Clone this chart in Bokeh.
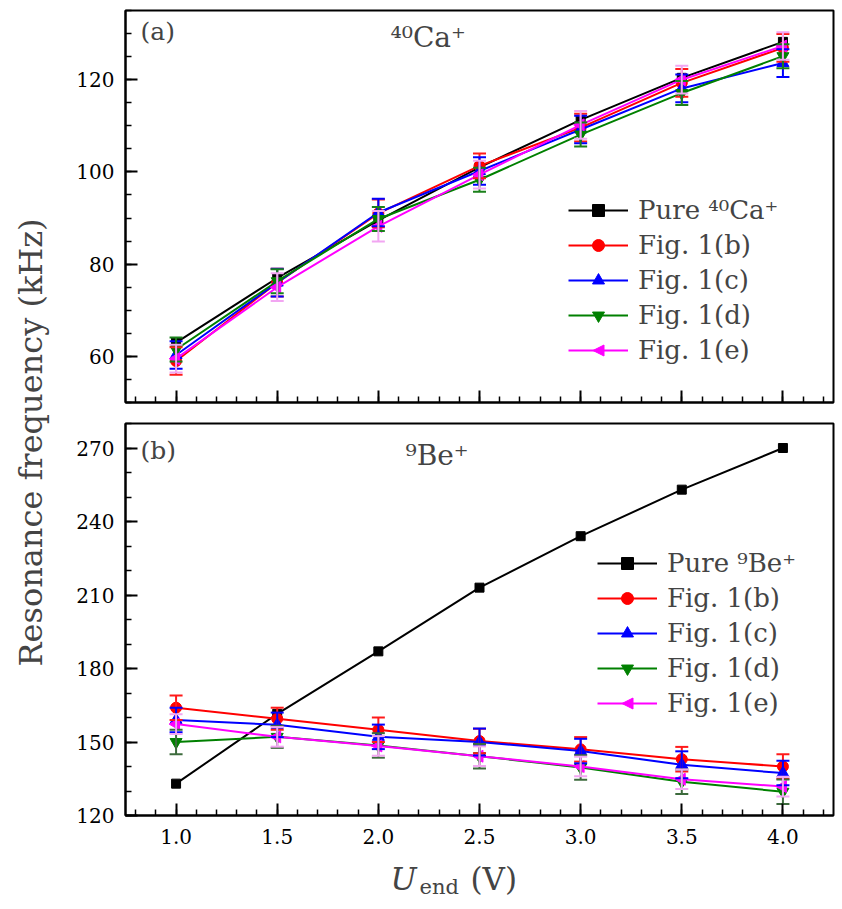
import numpy as np
from bokeh.plotting import figure
from bokeh.layouts import row, column
from bokeh.models import (ColumnDataSource, Whisker, TeeHead, FixedTicker,
                          PrintfTickFormatter, CustomJSTickFormatter, Legend,
                          LegendItem, Label, Range1d, Arrow, NormalHead)
from bokeh.embed import file_html
from bokeh.resources import INLINE

FONT = "DejaVu Serif"

# ---------------- data ----------------
u_end = [1.0, 1.5, 2.0, 2.5, 3.0, 3.5, 4.0]

# (a) 40Ca+
ca_pure = [63.0, 77.0, 89.5, 101.0, 111.3, 120.4, 128.2]
ca_b = [59.0, 76.0, 91.0, 101.3, 109.6, 119.3, 126.9]
ca_b_err = [3.0, 3.0, 3.0, 2.7, 3.0, 3.0, 3.0]
ca_c = [60.3, 76.0, 91.2, 100.2, 109.2, 118.1, 123.6]
ca_c_err = [3.0, 3.0, 3.0, 3.0, 3.0, 3.0, 3.0]
ca_d = [61.5, 76.3, 89.8, 98.3, 108.1, 117.1, 125.1]
ca_d_err = [2.6, 2.6, 2.6, 2.6, 2.6, 2.6, 2.6]
ca_e = [59.5, 75.0, 88.2, 99.4, 110.2, 120.0, 127.3]
ca_e_err = [3.0, 3.0, 3.3, 3.0, 3.0, 3.0, 3.0]

# (b) 9Be+
be_pure = [133.0, 161.5, 187.0, 213.0, 234.0, 253.0, 270.0]
be_b = [164.0, 159.5, 155.0, 150.4, 147.0, 143.0, 140.0]
be_b_err = [5.0, 4.5, 5.0, 5.0, 5.0, 5.0, 5.0]
be_c = [159.0, 157.0, 152.1, 150.0, 146.3, 140.7, 137.3]
be_c_err = [5.0, 5.0, 5.0, 5.5, 5.0, 5.5, 5.0]
be_d = [150.0, 152.1, 148.6, 144.2, 139.6, 133.8, 129.7]
be_d_err = [5.0, 4.5, 5.0, 5.0, 5.0, 5.0, 5.0]
be_e = [157.3, 152.1, 148.4, 144.2, 140.0, 134.8, 131.8]
be_e_err = [4.0, 4.0, 4.0, 4.0, 4.0, 4.0, 4.0]

x_ticks = [1.0, 1.5, 2.0, 2.5, 3.0, 3.5, 4.0]
ca_ticks = [60, 80, 100, 120]
be_ticks = [120, 150, 180, 210, 240, 270]

legend_labels_ca = ["Pure \u2074\u2070Ca\u207a", "Fig. 1(b)", "Fig. 1(c)", "Fig. 1(d)", "Fig. 1(e)"]
legend_labels_be = ["Pure \u2079Be\u207a", "Fig. 1(b)", "Fig. 1(c)", "Fig. 1(d)", "Fig. 1(e)"]

# ---------------- styles ----------------
line_colors = ["#000000", "#ff0000", "#0000ff", "#008000", "#ff00ff"]
err_colors_top = [None, "#ff1a1a", "#0000ff", "#1a801a", "#f2a6f2"]
err_colors_bot = [None, "#ff1a1a", "#0000ff", "#3d6b3d", "#f2a6f2"]
markers = ["square", "circle", "triangle", "inverted_triangle", "triangle"]
angles = [0.0, 0.0, 0.0, 0.0, np.pi / 2]
sizes = [9, 11, 12, 12, 12]

W_LAB = 50
BL = 75
FW = 708
BR = 5
FH = 392
P1_H = 10 + FH + 10
P2_H = 11 + FH + 40
XL_H = 54

LEG_GW = 60
LEG_GH = 30
LEG_SP = 5


def style(p, yticks, yminor, show_x_labels):
    p.outline_line_color = "black"
    p.outline_line_width = 2
    p.xgrid.visible = False
    p.ygrid.visible = False
    p.xaxis.ticker = FixedTicker(ticks=x_ticks, minor_ticks=list(np.round(np.arange(0.8, 4.25, 0.1), 2)))
    p.yaxis.ticker = FixedTicker(ticks=yticks, minor_ticks=yminor)
    for ax in (p.xaxis[0], p.yaxis[0]):
        ax.axis_line_width = 2
        ax.axis_line_color = "black"
        ax.major_tick_in = 12
        ax.major_tick_out = 0
        ax.minor_tick_in = 6
        ax.minor_tick_out = 0
        ax.major_tick_line_width = 2
        ax.minor_tick_line_width = 1.5
        ax.major_label_text_font = FONT
        ax.major_label_text_font_size = "20px"
        ax.major_label_text_color = "black"
    p.yaxis.major_label_standoff = 11
    if show_x_labels:
        p.xaxis.formatter = PrintfTickFormatter(format="%.1f")
        p.xaxis.major_label_standoff = 13
    else:
        p.xaxis.formatter = CustomJSTickFormatter(code="return ''")
        p.xaxis.major_label_standoff = 0


def add_series(p, ys, errs, labels, err_colors, lx, ly):
    items = []
    n = len(ys)
    for i, (y, e) in enumerate(zip(ys, errs)):
        src = ColumnDataSource(dict(x=u_end, y=y, ang=[angles[i]] * len(u_end)))
        ln = p.line("x", "y", source=src, line_color=line_colors[i], line_width=2)
        if e is not None:
            esrc = ColumnDataSource(dict(x=u_end,
                                         lo=list(np.array(y) - np.array(e)),
                                         hi=list(np.array(y) + np.array(e))))
            c = err_colors[i]
            w = Whisker(source=esrc, base="x", lower="lo", upper="hi",
                        line_color=c, line_width=2, level="glyph",
                        upper_head=TeeHead(size=13, line_color=c, line_width=2),
                        lower_head=TeeHead(size=13, line_color=c, line_width=2))
            p.add_layout(w)
        sc = p.scatter("x", "y", source=src, marker=markers[i], size=sizes[i],
                       angle="ang", fill_color=line_colors[i],
                       line_color=line_colors[i])
        if angles[i] != 0:
            # legend symbol for the left-pointing triangle (legend glyphs are not rotated)
            row_idx = n - 1 - i
            cx = lx + LEG_GW / 2
            cy = ly + row_idx * (LEG_GH + LEG_SP) + LEG_GH / 2
            hs = 11
            p.add_layout(Arrow(x_start=cx + hs / 2, y_start=cy, x_end=cx - hs / 2, y_end=cy,
                               start_units="screen", end_units="screen",
                               line_alpha=0, level="overlay",
                               end=NormalHead(size=hs, fill_color=line_colors[i],
                                              line_color=line_colors[i], line_width=1)))
            items.append(LegendItem(label=labels[i], renderers=[ln]))
        else:
            items.append(LegendItem(label=labels[i], renderers=[ln, sc], index=0))
    leg = Legend(items=items, location=(lx, ly), margin=0, padding=0,
                 border_line_color=None, background_fill_alpha=0,
                 label_text_font=FONT, label_text_font_size="26px",
                 glyph_width=LEG_GW, glyph_height=LEG_GH, label_height=LEG_GH,
                 label_standoff=10, spacing=LEG_SP)
    p.add_layout(leg, "center")


# ---------------- top panel ----------------
p1 = figure(width=BL + FW + BR, height=P1_H, output_backend="svg",
            toolbar_location=None, x_range=Range1d(0.75, 4.25),
            y_range=Range1d(50, 135), min_border_left=BL, min_border_right=BR,
            min_border_top=10, min_border_bottom=10)
style(p1, ca_ticks, list(range(50, 136, 5)), False)
add_series(p1, [ca_pure, ca_b, ca_c, ca_d, ca_e],
           [None, ca_b_err, ca_c_err, ca_d_err, ca_e_err],
           legend_labels_ca, err_colors_top, 443, 37)
p1.add_layout(Label(x=15, y=FH - 21, x_units="screen", y_units="screen", text="(a)",
                    text_font=FONT, text_font_size="25px", text_baseline="middle"))
p1.add_layout(Label(x=265, y=FH - 27, x_units="screen", y_units="screen",
                    text="\u2074\u2070Ca\u207a",
                    text_font=FONT, text_font_size="28px", text_baseline="middle"))

# ---------------- bottom panel ----------------
p2 = figure(width=BL + FW + BR, height=P2_H, output_backend="svg",
            toolbar_location=None, x_range=Range1d(0.75, 4.25),
            y_range=Range1d(120, 280), min_border_left=BL, min_border_right=BR,
            min_border_top=11, min_border_bottom=40)
style(p2, be_ticks, list(range(120, 281, 10)), True)
add_series(p2, [be_pure, be_b, be_c, be_d, be_e],
           [None, be_b_err, be_c_err, be_d_err, be_e_err],
           legend_labels_be, err_colors_bot, 472, 97)
p2.add_layout(Label(x=15, y=FH - 27, x_units="screen", y_units="screen", text="(b)",
                    text_font=FONT, text_font_size="25px", text_baseline="middle"))
p2.add_layout(Label(x=280, y=FH - 32, x_units="screen", y_units="screen",
                    text="\u2079Be\u207a",
                    text_font=FONT, text_font_size="28px", text_baseline="middle"))

# ---------------- x-axis label: U_end (V) ----------------
px = figure(width=BL + FW + BR, height=XL_H, output_backend="svg", toolbar_location=None,
            x_axis_type=None, y_axis_type=None, min_border=0,
            x_range=Range1d(0, 1), y_range=Range1d(0, 1))
px.outline_line_color = None
px.xgrid.visible = False
px.ygrid.visible = False
px.add_layout(Label(x=265, y=31, x_units="screen", y_units="screen", text="U",
                    text_font=FONT, text_font_style="italic", text_font_size="31px",
                    text_baseline="alphabetic"))
px.add_layout(Label(x=294, y=23, x_units="screen", y_units="screen", text="end",
                    text_font=FONT, text_font_size="21px", text_baseline="alphabetic"))
px.add_layout(Label(x=345, y=31, x_units="screen", y_units="screen", text="(V)",
                    text_font=FONT, text_font_size="31px", text_baseline="alphabetic"))

# ---------------- shared y label ----------------
TOTAL_H = P1_H + P2_H + XL_H
pl = figure(width=W_LAB, height=TOTAL_H, output_backend="svg", toolbar_location=None,
            x_axis_type=None, y_axis_type=None, min_border=0,
            x_range=Range1d(0, 1), y_range=Range1d(0, 1))
pl.outline_line_color = None
pl.xgrid.visible = False
pl.ygrid.visible = False
pl.add_layout(Label(x=30, y=TOTAL_H - 442, x_units="screen", y_units="screen",
                    text="Resonance frequency (kHz)", angle=np.pi / 2,
                    text_align="center", text_baseline="middle",
                    text_font=FONT, text_font_size="32px"))

layout = row(pl, column(p1, p2, px))
open("out.html", "w").write(file_html(layout, INLINE))
